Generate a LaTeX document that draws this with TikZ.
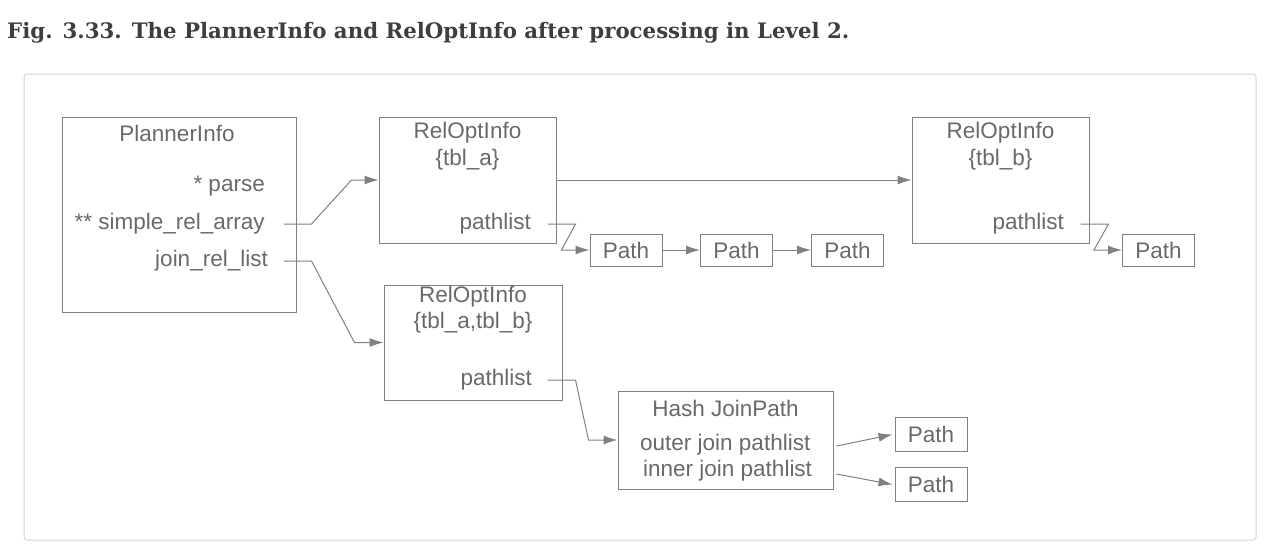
\documentclass[tikz,border=0pt]{standalone}
\usepackage{fontspec}
\newfontfamily\labelfont{Liberation Sans}
\newfontfamily\titlefont{DejaVu Serif}
\usetikzlibrary{arrows.meta,calc}
\definecolor{linegray}{RGB}{128,128,128}
\definecolor{textgray}{RGB}{105,105,105}
\definecolor{framegray}{RGB}{212,212,212}
\definecolor{titlegray}{RGB}{62,62,62}
\tikzset{
  box/.style={draw=linegray, line width=1pt, rectangle, inner sep=0pt},
  pathbox/.style={box, minimum width=72pt, minimum height=32pt, text=textgray,
    font=\labelfont\fontsize{22.5}{24}\selectfont},
  txt/.style={inner sep=0pt, text=textgray, font=\labelfont\fontsize{22.5}{24}\selectfont},
  link/.style={draw=linegray, line width=1pt, -{Latex[length=14pt,width=9pt]}}
}

\begin{document}
\begin{tikzpicture}[x=1pt,y=-1pt]
  \useasboundingbox (0,0) rectangle (1276,544);
  \draw[framegray, line width=1pt, rounded corners=3pt] (24,74) rectangle (1256,540);

  \node[anchor=west, inner sep=0pt, text=titlegray, font=\titlefont\bfseries\fontsize{21.3}{24}\selectfont] (title) at (7,33)
    {Fig. 3.33. The PlannerInfo and RelOptInfo after processing in Level 2.};

  % PlannerInfo
  \node[box, minimum width=234pt, minimum height=195pt] (plan) at (179,214.5) {};
  \node[txt] (plantitle) at (177,133) {PlannerInfo};
  \node[txt, anchor=east] (parse) at (265,186) {* parse};
  \node[txt, anchor=east] (arr) at (265,224) {** simple\_rel\_array};
  \node[txt, anchor=east] (jrl) at (268,261) {join\_rel\_list};

  % RelOptInfo {tbl_a}
  \node[box, minimum width=177pt, minimum height=126pt] (relA) at (467.5,180) {};
  \node[txt] (relAname) at (467.5,133) {RelOptInfo};
  \node[txt] (relAset) at (467.5,160) {\{tbl\_a\}};
  \node[txt, anchor=east] (plA) at (531,224) {pathlist};

  % RelOptInfo {tbl_b}
  \node[box, minimum width=177pt, minimum height=126pt] (relB) at (1000.5,180) {};
  \node[txt] (relBname) at (1000.5,133) {RelOptInfo};
  \node[txt] (relBset) at (1000.5,160) {\{tbl\_b\}};
  \node[txt, anchor=east] (plB) at (1064,224) {pathlist};

  % RelOptInfo {tbl_a,tbl_b}
  \node[box, minimum width=178pt, minimum height=115pt] (relAB) at (473,342.5) {};
  \node[txt] (relABname) at (473,297) {RelOptInfo};
  \node[txt] (relABset) at (473,323) {\{tbl\_a,tbl\_b\}};
  \node[txt, anchor=east] (plAB) at (532,380) {pathlist};

  % Hash JoinPath
  \node[box, minimum width=215pt, minimum height=98pt] (hash) at (725.5,440) {};
  \node[txt] (hashname) at (725.5,408) {Hash JoinPath};
  \node[txt, anchor=west] (outer) at (640,445) {outer join pathlist};
  \node[txt, anchor=west] (inner) at (643,471) {inner join pathlist};

  % paths
  \node[pathbox] (pA1) at (626,250) {Path};
  \node[pathbox] (pA2) at (736.5,250) {Path};
  \node[pathbox] (pA3) at (847.5,250) {Path};
  \node[pathbox] (pB1) at (1158.5,250) {Path};
  \node[pathbox, minimum height=34pt] (pO) at (931,434.5) {Path};
  \node[pathbox, minimum height=34pt] (pI) at (931,484.5) {Path};

  % connectors
  \draw[link] ($(plan.east |- arr.east)+(-13,0)$) -- ++(28,0) -- ([xshift=-27pt]relA.west) -- (relA.west);
  \draw[link] ($(plan.east |- jrl.east)+(-13,0)$) -- ++(28,0) -- ([xshift=-29pt]relAB.west) -- (relAB.west);
  \draw[link] (relA.east) -- (relB.west);

  \draw[link] ($(relA.east |- plA.east)+(-9,0)$) -- ++(28,0) -- ([xshift=-28pt]pA1.west) -- (pA1.west);
  \draw[link] (pA1) -- (pA2);
  \draw[link] (pA2) -- (pA3);
  \draw[link] ($(relB.east |- plB.east)+(-9,0)$) -- ++(28,0) -- ([xshift=-28pt]pB1.west) -- (pB1.west);

  \draw[link] ($(relAB.east |- plAB.east)+(-15,0)$) -- ++(28,0) -- ([xshift=-29pt]hash.west) -- (hash.west);
  \draw[link] ($(hash.east)+(3,6)$) -- ([xshift=-2pt]pO.west);
  \draw[link] ($(hash.east)+(3,34)$) -- ([xshift=-2pt]pI.west);
\end{tikzpicture}
\end{document}
